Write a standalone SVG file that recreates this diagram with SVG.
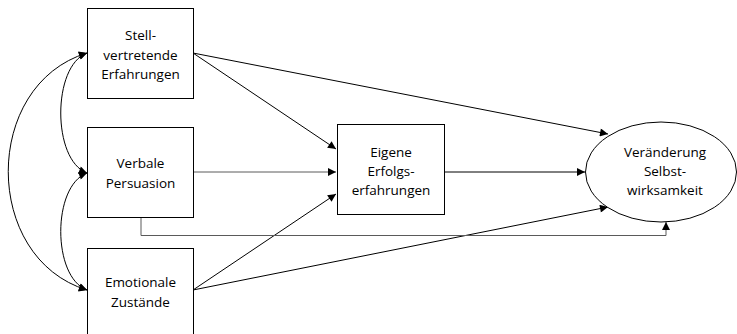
<svg xmlns="http://www.w3.org/2000/svg" width="737" height="334" viewBox="0 0 737 334">
  <style>
    .box { fill: #ffffff; stroke: #000000; stroke-width: 1; }
    .lbl { font-family: "Open Sans", "Liberation Sans", sans-serif; font-size: 13.5px; fill: #000000; text-anchor: middle; }
    .edge { fill: none; stroke: #000000; stroke-width: 1; marker-end: url(#head); }
    .grey { stroke: #5a5a5a; }
    .both { fill: none; stroke: #000000; stroke-width: 1; marker-start: url(#headStart); marker-end: url(#head); }
  </style>
  <defs>
    <marker id="head" viewBox="0 0 10 10" refX="10" refY="5" markerWidth="9" markerHeight="8" markerUnits="userSpaceOnUse" orient="auto">
      <path d="M0,0 L10,5 L0,10 z" fill="#000000"/>
    </marker>
    <marker id="headStart" viewBox="0 0 10 10" refX="10" refY="5" markerWidth="9" markerHeight="8" markerUnits="userSpaceOnUse" orient="auto-start-reverse">
      <path d="M0,0 L10,5 L0,10 z" fill="#000000"/>
    </marker>
  </defs>

  <g id="connectors">
    <!-- correlations between the three sources -->
    <path class="both" d="M87,53 C52,66 52,160 87,173"/>
    <path class="both" d="M87,173 C52,186 52,277 87,290"/>
    <path class="both" d="M87,53 C-18,85 -18,258 87,290"/>
    <!-- direct paths -->
    <line class="edge" x1="193" y1="53" x2="336" y2="149"/>
    <line class="edge" x1="193" y1="53" x2="608" y2="134"/>
    <line class="edge grey" x1="193" y1="172" x2="336" y2="172"/>
    <line class="edge" x1="193" y1="290" x2="336" y2="194"/>
    <line class="edge" x1="193" y1="290" x2="608" y2="207"/>
    <line class="edge" x1="444" y1="172" x2="585" y2="172"/>
    <polyline class="edge grey" points="141,217 141,235.5 666,235.5 666,222"/>
  </g>

  <g id="stellvertretende">
    <rect class="box" x="87.5" y="8.5" width="106" height="90"/>
    <text class="lbl" x="140.5" y="40">Stell-</text>
    <text class="lbl" x="140.5" y="59.5">vertretende</text>
    <text class="lbl" x="140.5" y="79">Erfahrungen</text>
  </g>

  <g id="verbale">
    <rect class="box" x="87.5" y="127.5" width="106" height="90"/>
    <text class="lbl" x="140.5" y="168">Verbale</text>
    <text class="lbl" x="140.5" y="187.5">Persuasion</text>
  </g>

  <g id="emotionale">
    <rect class="box" x="87.5" y="248.5" width="106" height="95"/>
    <text class="lbl" x="140.5" y="287">Emotionale</text>
    <text class="lbl" x="140.5" y="307">Zustände</text>
  </g>

  <g id="eigene">
    <rect class="box" x="337.5" y="124.5" width="107" height="90"/>
    <text class="lbl" x="391" y="157">Eigene</text>
    <text class="lbl" x="391" y="176">Erfolgs-</text>
    <text class="lbl" x="391" y="194.5">erfahrungen</text>
  </g>

  <g id="veraenderung">
    <ellipse class="box" cx="661" cy="172" rx="75.5" ry="50"/>
    <text class="lbl" x="665" y="157">Veränderung</text>
    <text class="lbl" x="665" y="176">Selbst-</text>
    <text class="lbl" x="665" y="194.5">wirksamkeit</text>
  </g>
</svg>
